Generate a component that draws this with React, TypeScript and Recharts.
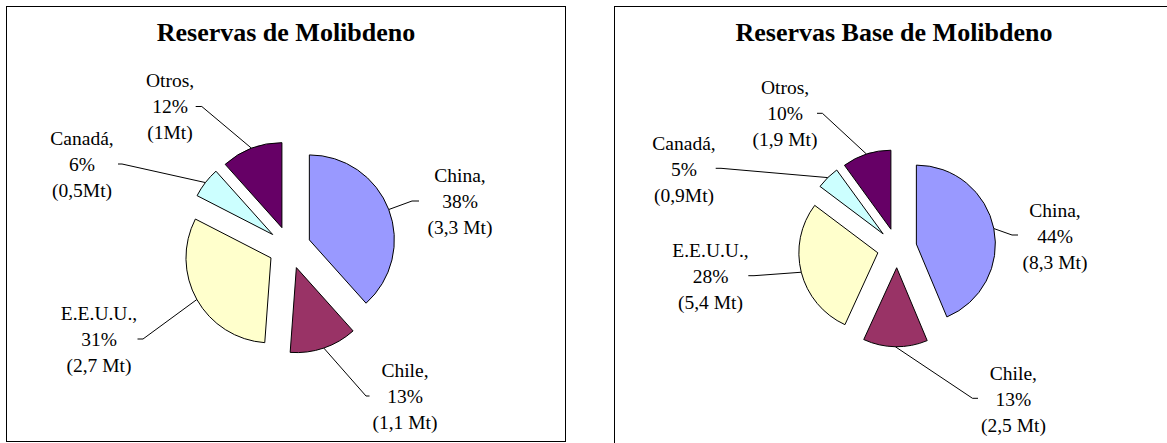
import React from 'react';
import { PieChart, Pie, Cell } from 'recharts';

// paises y colores (paleta clasica de Excel)
const countries = ['China', 'Chile', 'E.E.U.U.', 'Canadá', 'Otros'];
const colors = ['#9999FF', '#993366', '#FFFFCC', '#CCFFFF', '#660066'];

// Reservas (Mt)
const reservas = [3.3, 1.1, 2.7, 0.5, 1.0];
const reservasText = ['(3,3 Mt)', '(1,1 Mt)', '(2,7 Mt)', '(0,5Mt)', '(1Mt)'];

// Reservas base (Mt)
const reservasBase = [8.3, 2.5, 5.4, 0.9, 1.9];
const reservasBaseText = ['(8,3 Mt)', '(2,5 Mt)', '(5,4 Mt)', '(0,9Mt)', '(1,9 Mt)'];

// label placement relative to the pie centre: text (middle line baseline), leader elbow and end
type LabelPos = { tx: number; ty: number; ex: number; ey: number; hx: number };

const leftLabels: LabelPos[] = [
  { tx: 170.5, ty: -39.5, ex: 122.5, ey: -46.5, hx: 129.5 },
  { tx: 115.5, ty: 155.5, ex: 76.5, ey: 148.5, hx: 80 },
  { tx: -190.5, ty: 98.5, ex: -146.5, ey: 91.5, hx: -152 },
  { tx: -207.5, ty: -76.5, ex: -167.5, ey: -83.5, hx: -171.5 },
  { tx: -119.5, ty: -134.5, ex: -87.7, ey: -141, hx: -93.8 },
];

const rightLabels: LabelPos[] = [
  { tx: 158, ty: -5, ex: 115, ey: -13, hx: 121 },
  { tx: 116.4, ty: 158, ex: 75.5, ey: 150.3, hx: 81 },
  { tx: -186.5, ty: 35, ex: -143, ey: 27.7, hx: -148.7 },
  { tx: -213, ty: -72, ex: -176, ey: -79.7, hx: -181.3 },
  { tx: -112, ty: -128.5, ex: -74.6, ey: -134.7, hx: -80 },
];

const RAD = Math.PI / 180;
const FONT = '"Liberation Serif", "Times New Roman", serif';

// offset of each exploded slice along its mid angle (clockwise from 12 o'clock)
function explodeOffsets(values: number[], dist: number) {
  const total = values.reduce((a, b) => a + b, 0);
  let acc = 0;
  return values.map((v) => {
    const mid = ((acc + v / 2) / total) * 360;
    acc += v;
    return { dx: dist * Math.sin(mid * RAD), dy: -dist * Math.cos(mid * RAD) };
  });
}

const makeLabel = (pos: LabelPos[], mtText: string[], explode: number) => (props: any) => {
  const { cx, cy, midAngle, outerRadius, percent, index, name } = props;
  const p = pos[index];
  const r = outerRadius + explode;
  const ax = cx + r * Math.cos(-midAngle * RAD);
  const ay = cy + r * Math.sin(-midAngle * RAD);
  const x = cx + p.tx;
  const y = cy + p.ty;
  return (
    <g>
      <polyline
        points={`${ax},${ay} ${cx + p.ex},${cy + p.ey} ${cx + p.hx},${cy + p.ey}`}
        fill="none"
        stroke="#000"
        strokeWidth={1}
      />
      <text textAnchor="middle" fontFamily={FONT} fontSize={19.5} fill="#000">
        <tspan x={x} y={y - 26}>{name},</tspan>
        <tspan x={x} y={y}>{Math.round(percent * 100)}%</tspan>
        <tspan x={x} y={y + 26}>{mtText[index]}</tspan>
      </text>
    </g>
  );
};

interface PanelProps {
  title: string;
  values: number[];
  mtText: string[];
  labels: LabelPos[];
  left: number;
  height: number;
  cx: number;
  cy: number;
  radius: number;
}

const Panel: React.FC<PanelProps> = ({ title, values, mtText, labels, left, height, cx, cy, radius }) => {
  const data = countries.map((name, i) => ({ name, value: values[i] }));
  const explode = radius * 0.25;
  const offsets = explodeOffsets(values, explode);
  return (
    <div
      style={{
        position: 'absolute',
        left,
        top: 6,
        width: 560,
        height,
        boxSizing: 'border-box',
        border: '1px solid #000',
        background: '#fff',
      }}
    >
      <div
        style={{
          position: 'absolute',
          left: 0,
          right: 0,
          top: 11,
          textAlign: 'center',
          fontFamily: FONT,
          fontWeight: 'bold',
          fontSize: 26,
          lineHeight: '30px',
          color: '#000',
        }}
      >
        {title}
      </div>
      <div style={{ position: 'absolute', left: -1, top: -1 }}>
        <PieChart width={560} height={436} margin={{ top: 0, right: 0, bottom: 0, left: 0 }}>
          <Pie
            data={data}
            dataKey="value"
            nameKey="name"
            cx={cx}
            cy={cy}
            outerRadius={radius}
            innerRadius={0}
            startAngle={90}
            endAngle={-270}
            stroke="#000"
            strokeWidth={1}
            label={makeLabel(labels, mtText, explode)}
            labelLine={false}
            isAnimationActive={false}
          >
            {data.map((d, i) => (
              <Cell
                key={d.name}
                fill={colors[i]}
                transform={`translate(${offsets[i].dx}, ${offsets[i].dy})`}
              />
            ))}
          </Pie>
        </PieChart>
      </div>
    </div>
  );
};

export default function App() {
  return (
    <div
      style={{
        position: 'absolute',
        left: 0,
        top: 0,
        width: 1167,
        height: 443,
        overflow: 'hidden',
        background: '#fff',
      }}
    >
      <Panel
        title="Reservas de Molibdeno"
        values={reservas}
        mtText={reservasText}
        labels={leftLabels}
        left={6}
        height={436}
        cx={283.5}
        cy={241.5}
        radius={85}
      />
      <Panel
        title="Reservas Base de Molibdeno"
        values={reservasBase}
        mtText={reservasBaseText}
        labels={rightLabels}
        left={614}
        height={460}
        cx={283}
        cy={242}
        radius={79}
      />
    </div>
  );
}
